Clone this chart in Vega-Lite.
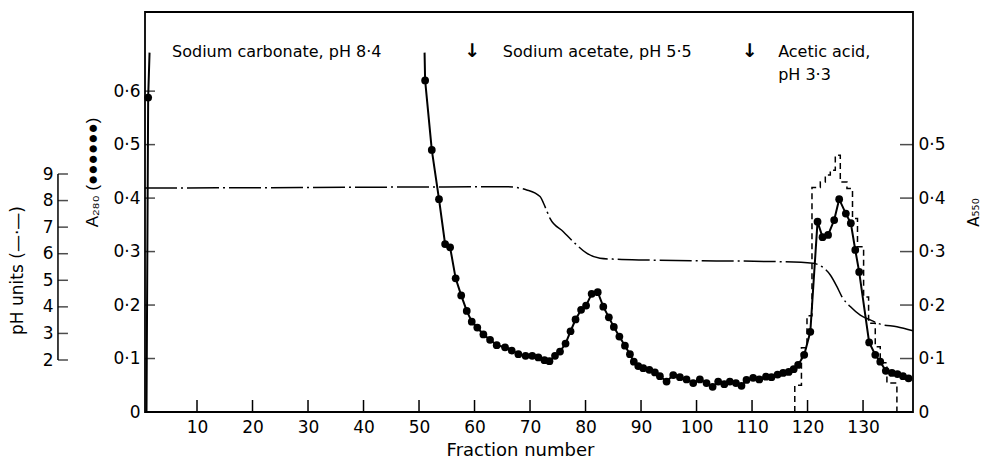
{
  "$schema": "https://vega.github.io/schema/vega-lite/v6.json",
  "width": 768,
  "height": 400,
  "autosize": {"type": "none"},
  "padding": {"left": 145, "top": 12, "right": 74, "bottom": 48},
  "background": "white",
  "config": {
    "font": "DejaVu Sans",
    "view": {"stroke": "black", "strokeWidth": 1.8},
    "axis": {
      "domainColor": "black", "domainWidth": 1.5,
      "tickColor": "black", "tickWidth": 1.5,
      "labelColor": "black", "titleColor": "black",
      "labelFont": "DejaVu Sans", "titleFont": "DejaVu Sans",
      "labelFontSize": 17, "titleFontWeight": "normal", "grid": false
    }
  },
  "datasets": {
    "a280": [
      {"f": 0.9, "a": 0.0, "seg": 1, "dot": 0},
      {"f": 1.2, "a": 0.588, "seg": 1, "dot": 1},
      {"f": 1.45, "a": 0.672, "seg": 1, "dot": 0},
      {"f": 51.0, "a": 0.672, "seg": 2, "dot": 0},
      {"f": 51.1, "a": 0.620, "seg": 2, "dot": 1},
      {"f": 52.3, "a": 0.490, "seg": 2, "dot": 1},
      {"f": 53.6, "a": 0.398, "seg": 2, "dot": 1},
      {"f": 54.7, "a": 0.314, "seg": 2, "dot": 1},
      {"f": 55.6, "a": 0.308, "seg": 2, "dot": 1},
      {"f": 56.6, "a": 0.250, "seg": 2, "dot": 1},
      {"f": 57.6, "a": 0.218, "seg": 2, "dot": 1},
      {"f": 58.6, "a": 0.189, "seg": 2, "dot": 1},
      {"f": 59.5, "a": 0.169, "seg": 2, "dot": 1},
      {"f": 60.5, "a": 0.158, "seg": 2, "dot": 1},
      {"f": 61.6, "a": 0.145, "seg": 2, "dot": 1},
      {"f": 62.8, "a": 0.135, "seg": 2, "dot": 1},
      {"f": 64.0, "a": 0.125, "seg": 2, "dot": 1},
      {"f": 65.5, "a": 0.121, "seg": 2, "dot": 1},
      {"f": 66.7, "a": 0.115, "seg": 2, "dot": 1},
      {"f": 67.9, "a": 0.108, "seg": 2, "dot": 1},
      {"f": 69.2, "a": 0.105, "seg": 2, "dot": 1},
      {"f": 70.4, "a": 0.105, "seg": 2, "dot": 1},
      {"f": 71.5, "a": 0.102, "seg": 2, "dot": 1},
      {"f": 72.6, "a": 0.097, "seg": 2, "dot": 1},
      {"f": 73.5, "a": 0.095, "seg": 2, "dot": 1},
      {"f": 74.5, "a": 0.105, "seg": 2, "dot": 1},
      {"f": 75.4, "a": 0.113, "seg": 2, "dot": 1},
      {"f": 76.4, "a": 0.128, "seg": 2, "dot": 1},
      {"f": 77.3, "a": 0.151, "seg": 2, "dot": 1},
      {"f": 78.2, "a": 0.173, "seg": 2, "dot": 1},
      {"f": 79.2, "a": 0.191, "seg": 2, "dot": 1},
      {"f": 80.1, "a": 0.199, "seg": 2, "dot": 1},
      {"f": 81.1, "a": 0.221, "seg": 2, "dot": 1},
      {"f": 82.2, "a": 0.224, "seg": 2, "dot": 1},
      {"f": 83.2, "a": 0.197, "seg": 2, "dot": 1},
      {"f": 84.2, "a": 0.177, "seg": 2, "dot": 1},
      {"f": 85.1, "a": 0.159, "seg": 2, "dot": 1},
      {"f": 86.1, "a": 0.141, "seg": 2, "dot": 1},
      {"f": 87.1, "a": 0.124, "seg": 2, "dot": 1},
      {"f": 88.0, "a": 0.108, "seg": 2, "dot": 1},
      {"f": 88.7, "a": 0.094, "seg": 2, "dot": 1},
      {"f": 89.5, "a": 0.086, "seg": 2, "dot": 1},
      {"f": 90.4, "a": 0.082, "seg": 2, "dot": 1},
      {"f": 91.5, "a": 0.079, "seg": 2, "dot": 1},
      {"f": 92.5, "a": 0.074, "seg": 2, "dot": 1},
      {"f": 93.4, "a": 0.067, "seg": 2, "dot": 1},
      {"f": 94.6, "a": 0.057, "seg": 2, "dot": 1},
      {"f": 95.8, "a": 0.069, "seg": 2, "dot": 1},
      {"f": 97.0, "a": 0.065, "seg": 2, "dot": 1},
      {"f": 98.2, "a": 0.061, "seg": 2, "dot": 1},
      {"f": 99.4, "a": 0.054, "seg": 2, "dot": 1},
      {"f": 100.6, "a": 0.061, "seg": 2, "dot": 1},
      {"f": 101.8, "a": 0.054, "seg": 2, "dot": 1},
      {"f": 102.9, "a": 0.047, "seg": 2, "dot": 1},
      {"f": 103.9, "a": 0.057, "seg": 2, "dot": 1},
      {"f": 105.0, "a": 0.052, "seg": 2, "dot": 1},
      {"f": 106.0, "a": 0.057, "seg": 2, "dot": 1},
      {"f": 107.1, "a": 0.054, "seg": 2, "dot": 1},
      {"f": 108.1, "a": 0.049, "seg": 2, "dot": 1},
      {"f": 109.0, "a": 0.060, "seg": 2, "dot": 1},
      {"f": 110.2, "a": 0.064, "seg": 2, "dot": 1},
      {"f": 111.3, "a": 0.061, "seg": 2, "dot": 1},
      {"f": 112.5, "a": 0.066, "seg": 2, "dot": 1},
      {"f": 113.5, "a": 0.065, "seg": 2, "dot": 1},
      {"f": 114.6, "a": 0.070, "seg": 2, "dot": 1},
      {"f": 115.6, "a": 0.073, "seg": 2, "dot": 1},
      {"f": 116.6, "a": 0.075, "seg": 2, "dot": 1},
      {"f": 117.5, "a": 0.080, "seg": 2, "dot": 1},
      {"f": 118.3, "a": 0.088, "seg": 2, "dot": 1},
      {"f": 119.4, "a": 0.107, "seg": 2, "dot": 1},
      {"f": 120.5, "a": 0.150, "seg": 2, "dot": 1},
      {"f": 121.8, "a": 0.356, "seg": 2, "dot": 1},
      {"f": 122.7, "a": 0.327, "seg": 2, "dot": 1},
      {"f": 123.7, "a": 0.331, "seg": 2, "dot": 1},
      {"f": 124.8, "a": 0.359, "seg": 2, "dot": 1},
      {"f": 125.7, "a": 0.398, "seg": 2, "dot": 1},
      {"f": 126.9, "a": 0.371, "seg": 2, "dot": 1},
      {"f": 127.8, "a": 0.353, "seg": 2, "dot": 1},
      {"f": 128.6, "a": 0.303, "seg": 2, "dot": 1},
      {"f": 129.3, "a": 0.262, "seg": 2, "dot": 1},
      {"f": 131.1, "a": 0.130, "seg": 2, "dot": 1},
      {"f": 132.2, "a": 0.107, "seg": 2, "dot": 1},
      {"f": 133.1, "a": 0.094, "seg": 2, "dot": 1},
      {"f": 134.1, "a": 0.077, "seg": 2, "dot": 1},
      {"f": 135.2, "a": 0.073, "seg": 2, "dot": 1},
      {"f": 136.2, "a": 0.071, "seg": 2, "dot": 1},
      {"f": 137.2, "a": 0.067, "seg": 2, "dot": 1},
      {"f": 138.2, "a": 0.063, "seg": 2, "dot": 1}
    ],
    "ph": [
      {"f": 0.63, "ph": 8.47},
      {"f": 28.6, "ph": 8.49},
      {"f": 65.8, "ph": 8.52},
      {"f": 69.4, "ph": 8.40},
      {"f": 71.8, "ph": 8.15},
      {"f": 72.7, "ph": 7.77},
      {"f": 73.6, "ph": 7.33},
      {"f": 76.0, "ph": 6.83},
      {"f": 78.1, "ph": 6.39},
      {"f": 80.2, "ph": 6.02},
      {"f": 82.6, "ph": 5.83},
      {"f": 85.6, "ph": 5.79},
      {"f": 91.3, "ph": 5.76},
      {"f": 115.0, "ph": 5.70},
      {"f": 121.0, "ph": 5.64},
      {"f": 122.6, "ph": 5.51},
      {"f": 124.1, "ph": 5.20},
      {"f": 125.3, "ph": 4.76},
      {"f": 126.2, "ph": 4.38},
      {"f": 127.7, "ph": 4.01},
      {"f": 129.5, "ph": 3.69},
      {"f": 131.3, "ph": 3.51},
      {"f": 133.1, "ph": 3.35},
      {"f": 136.1, "ph": 3.25},
      {"f": 139.0, "ph": 3.10}
    ],
    "a550": [
      {"f": 117.7, "b": 0.0},
      {"f": 117.7, "b": 0.05},
      {"f": 118.9, "b": 0.12},
      {"f": 119.9, "b": 0.18},
      {"f": 120.8, "b": 0.42},
      {"f": 122.3, "b": 0.43},
      {"f": 123.2, "b": 0.443},
      {"f": 124.1, "b": 0.452},
      {"f": 125.0, "b": 0.48},
      {"f": 125.9, "b": 0.43},
      {"f": 127.1, "b": 0.418},
      {"f": 128.1, "b": 0.362},
      {"f": 129.0, "b": 0.309},
      {"f": 130.1, "b": 0.215},
      {"f": 131.0, "b": 0.166},
      {"f": 132.2, "b": 0.122},
      {"f": 133.1, "b": 0.092},
      {"f": 134.3, "b": 0.054},
      {"f": 136.1, "b": 0.0}
    ],
    "labels": [
      {"f": 5.5, "a": 0.664, "label": "Sodium carbonate, pH 8·4"},
      {"f": 65.1, "a": 0.664, "label": "Sodium acetate, pH 5·5"},
      {"f": 114.7, "a": 0.664, "label": "Acetic acid,"},
      {"f": 114.7, "a": 0.620, "label": "pH 3·3"}
    ],
    "arrows": [
      {"f": 59.6, "a": 0.664, "label": "↓"},
      {"f": 109.6, "a": 0.664, "label": "↓"}
    ],
    "xticks": [
      {"f": 10}, {"f": 20}, {"f": 30}, {"f": 40}, {"f": 50}, {"f": 60}, {"f": 70},
      {"f": 80}, {"f": 90}, {"f": 100}, {"f": 110}, {"f": 120}, {"f": 130}
    ],
    "aticks": [
      {"a": 0.1}, {"a": 0.2}, {"a": 0.3}, {"a": 0.4}, {"a": 0.5}, {"a": 0.6}
    ],
    "phticks": [
      {"ph": 2}, {"ph": 3}, {"ph": 4}, {"ph": 5}, {"ph": 6}, {"ph": 7}, {"ph": 8}, {"ph": 9}
    ],
    "bticks": [
      {"b": 0.1}, {"b": 0.2}, {"b": 0.3}, {"b": 0.4}, {"b": 0.5}
    ]
  },
  "layer": [
    {
      "layer": [
        {
          "data": {"name": "a280"},
          "mark": {"type": "line", "color": "black", "strokeWidth": 2},
          "encoding": {
            "x": {
              "field": "f", "type": "quantitative",
              "scale": {"domain": [0.63, 139], "nice": false, "zero": false},
              "axis": {
                "orient": "bottom",
                "values": [10, 20, 30, 40, 50, 60, 70, 80, 90, 100, 110, 120, 130], "format": "d",
                "title": "Fraction number", "titleFontSize": 18,
                "titleX": 375, "titleY": 43, "titleBaseline": "alphabetic", "titleAlign": "center",
                "ticks": false, "domain": false, "labelPadding": 7, "labelFontSize": 17
              }
            },
            "y": {
              "field": "a", "type": "quantitative",
              "scale": {"domain": [0, 0.748], "nice": false},
              "axis": {
                "orient": "left",
                "values": [0, 0.1, 0.2, 0.3, 0.4, 0.5, 0.6],
                "labelExpr": "datum.value == 0 ? '0' : replace(format(datum.value, '.1f'), '.', '·')",
                "ticks": false, "domain": false, "labelPadding": 5,
                "title": "A₂₈₀ (●●●●●●)", "titleFont": "Liberation Sans", "titleFontSize": 17,
                "titleX": -53, "titleY": 160, "titleAngle": 270,
                "titleAlign": "center", "titleBaseline": "middle"
              }
            },
            "detail": {"field": "seg", "type": "nominal"}
          }
        },
        {
          "data": {"name": "a280"},
          "transform": [{"filter": "datum.dot == 1"}],
          "mark": {"type": "point", "filled": true, "color": "black", "size": 60, "opacity": 1},
          "encoding": {
            "x": {"field": "f", "type": "quantitative"},
            "y": {"field": "a", "type": "quantitative"}
          }
        },
        {
          "data": {"name": "xticks"},
          "mark": {"type": "rule", "color": "black", "strokeWidth": 1.5},
          "encoding": {
            "x": {"field": "f", "type": "quantitative"},
            "y": {"datum": 0},
            "y2": {"datum": 0.0224}
          }
        },
        {
          "data": {"name": "aticks"},
          "mark": {"type": "tick", "orient": "horizontal", "color": "black", "size": 10, "thickness": 1.5},
          "encoding": {
            "y": {"field": "a", "type": "quantitative"},
            "x": {"datum": 1.53, "type": "quantitative"}
          }
        },
        {
          "data": {"name": "labels"},
          "mark": {"type": "text", "align": "left", "baseline": "alphabetic", "fontSize": 16, "color": "black"},
          "encoding": {
            "x": {"field": "f", "type": "quantitative"},
            "y": {"field": "a", "type": "quantitative"},
            "text": {"field": "label"}
          }
        },
        {
          "data": {"name": "arrows"},
          "mark": {"type": "text", "align": "center", "baseline": "alphabetic", "fontSize": 19, "fontWeight": "bold", "color": "black"},
          "encoding": {
            "x": {"field": "f", "type": "quantitative"},
            "y": {"field": "a", "type": "quantitative"},
            "text": {"field": "label"}
          }
        }
      ]
    },
    {
      "layer": [
        {
          "data": {"name": "ph"},
          "mark": {"type": "line", "color": "black", "strokeWidth": 1.5, "strokeDash": [32, 4, 2, 4], "interpolate": "monotone"},
          "encoding": {
            "x": {"field": "f", "type": "quantitative"},
            "y": {
              "field": "ph", "type": "quantitative",
              "scale": {"domain": [2, 9], "range": [348, 162], "nice": false, "zero": false},
              "axis": {
                "orient": "left", "offset": 87,
                "values": [2, 3, 4, 5, 6, 7, 8, 9], "format": "d",
                "ticks": false, "domain": false, "labelPadding": 5,
                "title": "pH units (—·—)", "titleFontSize": 17,
                "titleX": -41, "titleY": 258, "titleAngle": 270,
                "titleAlign": "center", "titleBaseline": "middle"
              }
            }
          }
        },
        {
          "data": {"name": "phticks"},
          "mark": {"type": "tick", "orient": "horizontal", "color": "black", "size": 10, "thickness": 1.5},
          "encoding": {
            "y": {"field": "ph", "type": "quantitative"},
            "x": {"datum": -14.15, "type": "quantitative"}
          }
        },
        {
          "data": {"name": "phticks"},
          "mark": {"type": "rule", "color": "black", "strokeWidth": 1.5},
          "encoding": {
            "y": {"aggregate": "min", "field": "ph", "type": "quantitative"},
            "y2": {"aggregate": "max", "field": "ph"},
            "x": {"datum": -15.05, "type": "quantitative"}
          }
        }
      ]
    },
    {
      "layer": [
        {
          "data": {"name": "a550"},
          "mark": {"type": "line", "color": "black", "strokeWidth": 1.5, "strokeDash": [6, 4], "interpolate": "step-after"},
          "encoding": {
            "x": {"field": "f", "type": "quantitative"},
            "y": {
              "field": "b", "type": "quantitative",
              "scale": {"domain": [0, 0.748], "nice": false},
              "axis": {
                "orient": "right",
                "values": [0, 0.1, 0.2, 0.3, 0.4, 0.5],
                "labelExpr": "datum.value == 0 ? '0' : replace(format(datum.value, '.1f'), '.', '·')",
                "ticks": false, "domain": false, "labelPadding": 5,
                "title": "A₅₅₀", "titleFontSize": 15,
                "titleX": 60, "titleY": 200, "titleAngle": 270,
                "titleAlign": "center", "titleBaseline": "middle"
              }
            }
          }
        },
        {
          "data": {"name": "bticks"},
          "mark": {"type": "tick", "orient": "horizontal", "color": "black", "size": 13, "thickness": 1.5},
          "encoding": {
            "y": {"field": "b", "type": "quantitative"},
            "x": {"datum": 137.83, "type": "quantitative"}
          }
        }
      ]
    }
  ],
  "resolve": {"scale": {"y": "independent"}}
}
